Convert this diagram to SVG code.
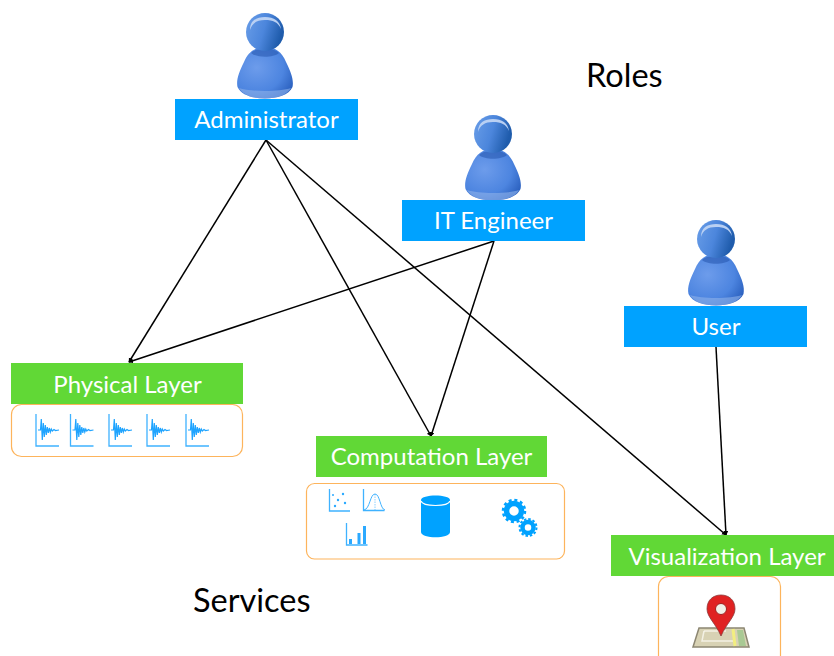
<svg xmlns="http://www.w3.org/2000/svg" width="834" height="656" viewBox="0 0 834 656">
<style>
text{font-family:"Lato","Open Sans","Liberation Sans",sans-serif}
.lbl{font-size:24px;fill:#fff;text-anchor:middle}
.head{font-size:32.500px;fill:#000}
.blue{fill:#00a2ff}
.green{fill:#61d836}
.panel{fill:#fff;stroke:#fdb45c;stroke-width:1.2}
.line{fill:none;stroke:#000;stroke-width:1.5;marker-end:url(#arr)}
.ax{fill:none;stroke:#3fb2ff;stroke-width:1.3}
.wv{fill:none;stroke:#1fa4ff;stroke-width:1.2}
</style>
<defs>
<marker id="arr" markerUnits="userSpaceOnUse" markerWidth="6" markerHeight="6" refX="4" refY="2.500" orient="auto"><path d="M0,0L4.500,2.500L0,5Z" fill="#000"/></marker>
<radialGradient id="bodyG" cx="0.35" cy="0.4" r="0.8"><stop offset="0" stop-color="#6d9ceb"/><stop offset="0.6" stop-color="#4d85e0"/><stop offset="1" stop-color="#2459b8"/></radialGradient>
<linearGradient id="headG" x1="0" y1="0" x2="1" y2="0.3"><stop offset="0" stop-color="#6a9ee8"/><stop offset="0.55" stop-color="#4c86dc"/><stop offset="1" stop-color="#1f5cac"/></linearGradient>
<g id="person">
<path d="M0,47C-10,47-17,52-21,62C-26,72-29,80-27.500,87C-24,95-12,98.500,0,98.500C12,98.500,24,95,27.500,87C29,80,26,72,21,62C17,52,10,47,0,47Z" fill="url(#bodyG)"/>
<path d="M-26,88C-14,92,14,92,26,88C22,95,12,98.500,0,98.500C-12,98.500-22,95-26,88Z" fill="#8fb2ea" opacity="0.6"/>
<path d="M-14,53C-8,47,8,47,14,53C8,58,-8,58,-14,53Z" fill="#1f4fa8" opacity="0.5"/>
<circle cx="0" cy="32" r="19" fill="url(#headG)"/>
<path d="M-15,30C-15,20-8,17,0,17C9,17,15,21,16,29C13,22,8,20,0,20C-8,20-13,23-15,30Z" fill="#b9d0f3"/>
</g>
<g id="wave">
<path class="ax" d="M0,0V32H23"/>
<path class="wv" d="M2,16H4.500L5.300,5L6.300,26L7.300,9L8.300,23L9.300,11L10.300,21L11.300,13L12.300,19L13.300,14L14.300,18L15.300,15L16.300,17L18,15.500L19.500,16.500L23,16"/>
</g>
</defs>
<g id="connectors">
<path class="line" d="M266,140L129,362"/>
<path class="line" d="M266,140L431,436"/>
<path class="line" d="M266,140L726,535"/>
<path class="line" d="M494,241L129,362"/>
<path class="line" d="M494,241L431,436"/>
<path class="line" d="M716,347L726,535"/>
</g>
<g id="administrator"><use href="#person" x="265" y="0"/><rect class="blue" x="175" y="99" width="183" height="41"/><text class="lbl" x="266.500" y="128">Administrator</text></g>
<g id="it-engineer"><use href="#person" x="493" y="102"/><rect class="blue" x="402" y="200" width="183" height="41"/><text class="lbl" x="493.500" y="229">IT Engineer</text></g>
<g id="user"><use href="#person" x="716" y="207"/><rect class="blue" x="624" y="306" width="183" height="41"/><text class="lbl" x="716" y="335">User</text></g>
<g id="roles"><text class="head" x="586" y="87">Roles</text></g>
<g id="services"><text class="head" x="193" y="612">Services</text></g>
<g id="physical-layer">
<rect class="panel" x="11.500" y="404.500" width="231" height="52" rx="10"/>
<rect class="green" x="11" y="363" width="232" height="41"/>
<text class="lbl" x="127.500" y="393">Physical Layer</text>
<use href="#wave" x="36" y="414"/><use href="#wave" x="70.500" y="414"/><use href="#wave" x="109" y="414"/><use href="#wave" x="147" y="414"/><use href="#wave" x="186" y="414"/>
</g>
<g id="computation-layer">
<rect class="panel" x="306.500" y="483.500" width="258" height="75.500" rx="8"/>
<rect class="green" x="316" y="436" width="231" height="41"/>
<text class="lbl" x="431.500" y="465">Computation Layer</text>
<path class="ax" d="M329.500,489V511H350"/>
<g fill="#2ba9ff"><circle cx="335" cy="506" r="1.200"/><circle cx="338" cy="500" r="1.200"/><circle cx="343" cy="494" r="1.200"/><circle cx="345" cy="503" r="1.200"/><circle cx="333" cy="495" r="1"/></g>
<path class="ax" d="M363.500,489V510.500H384.500"/>
<path fill="none" stroke="#3fb2ff" d="M364,510C370,509,370,494,375,494C380,494,380,509,385,510"/>
<path fill="none" stroke="#3fb2ff" stroke-width="0.600" stroke-dasharray="1.500 1" d="M375,494V510"/>
<path class="ax" d="M346.500,523V545H367.500"/>
<path fill="#2ba9ff" d="M349,539h3v5h-3zM357.500,533h3v11h-3zM363,526h3v18h-3z"/>
<path fill="#00a2ff" d="M421,500C421,494,450,494,450,500V532C450,539,421,539,421,532Z"/>
<path fill="none" stroke="#fff" stroke-width="1.200" d="M421,501C423,507,448,507,450,501"/>
<g fill="none" stroke="#00a2ff"><circle cx="514" cy="511" r="7.500" stroke-width="5.500"/><circle cx="514" cy="511" r="11" stroke-width="2.500" stroke-dasharray="3 2.760"/><circle cx="528" cy="527.500" r="5.500" stroke-width="4.500"/><circle cx="528" cy="527.500" r="8.500" stroke-width="2" stroke-dasharray="2.500 1.950"/></g>
</g>
<g id="visualization-layer">
<rect class="panel" x="658.500" y="576.500" width="122" height="90" rx="10"/>
<rect class="green" x="611" y="535" width="223" height="41"/>
<text class="lbl" x="727" y="565">Visualization Layer</text>
<path d="M699,628H744L749,647H693Z" fill="#d8d2b4" stroke="#8c8672" stroke-width="1.500"/>
<path d="M704,631H726M704,631L702,641H735" fill="none" stroke="#f3f1e4" stroke-width="1.500"/>
<path d="M733,629L735,646" stroke="#f2ee80" stroke-width="3"/>
<path d="M737,630H743L746,646H739Z" fill="#a9c994"/>
<path d="M721,636C716,624,707,617,707,609C707,600,713,595,721,595C729,595,735,600,735,609C735,617,726,624,721,636Z" fill="#e02222" stroke="#8c3a3a" stroke-width="0.800"/>
<circle cx="721" cy="609" r="5.500" fill="#f1f1e8" stroke="#a02020"/>
</g>
</svg>
